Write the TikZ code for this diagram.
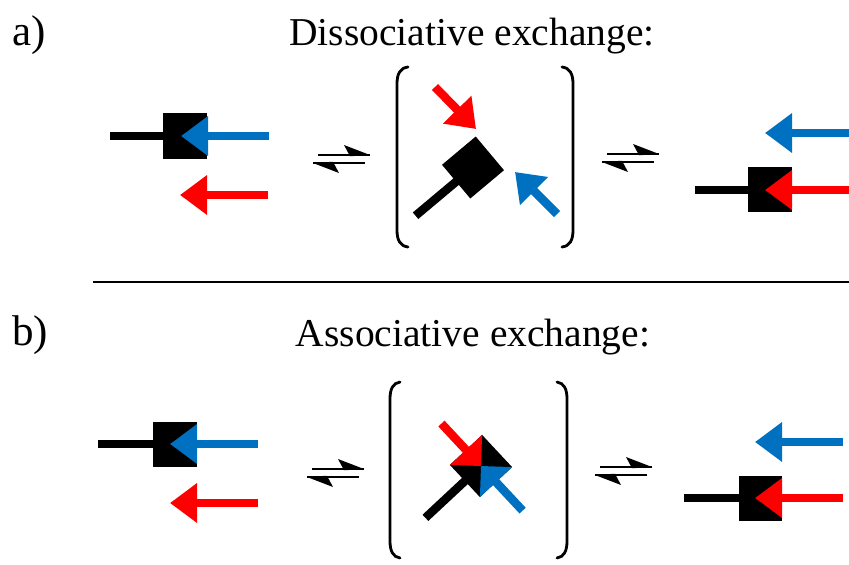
\documentclass[tikz,border=0pt]{standalone}
\usepackage{fontspec}
\setmainfont{Liberation Serif}
\usetikzlibrary{arrows.meta}
\definecolor{ligblue}{RGB}{0,112,192}
\definecolor{ligred}{RGB}{255,0,0}

\begin{document}
\begin{tikzpicture}[x={(1pt,0)}, y={(0,-1pt)},
  bar/.style={line width=8.5pt},
  bigarrow/.style={line width=8.5pt, -{Triangle[length=27pt,width=38pt]}},
  bracketline/.style={line width=2.8pt, line cap=round},
  eqline/.style={line width=2.5pt},
  headline/.style={font=\fontsize{39.5}{44}\selectfont, inner sep=0pt, anchor=base},
  partlabel/.style={font=\fontsize{43}{48}\selectfont, inner sep=0pt, anchor=base west},
  equil/.pic={
    \draw[eqline] (5,0) -- (57,0);
    \fill (57,0) -- (31,-10) -- (37,1.25) -- cycle;
    \draw[eqline] (0,8) -- (52,8);
    \fill (0,8) -- (26,18) -- (20,6.75) -- cycle;
  }]
\useasboundingbox (0,0) rectangle (849,565);

% ---------- headings ----------
\node[partlabel] (la) at (12,45) {a)};
\node[headline] (ta) at (472,45) {Dissociative exchange:};
\node[partlabel] (lb) at (12,345) {b)};
\node[headline] (tb) at (473,346) {Associative exchange:};

% separator
\draw[line width=2.2pt] (93,282) -- (849,282);

% ================= a) dissociative =================
% reactants
\draw[bar] (110,136) -- (165,136);
\fill (163,113) rectangle (207,159);
\draw[bigarrow, ligblue] (269,136) -- (181,136);
\draw[bigarrow, ligred] (268,195) -- (180,195);

\pic at (313,155) {equil};

% transition state
\draw[bracketline] (408,67) .. controls (400,68) and (397,74) .. (397,84) -- (397,230) .. controls (397,240) and (400,246) .. (408,247);
\draw[bracketline] (562,67) .. controls (570,68) and (573,74) .. (573,84) -- (573,230) .. controls (573,240) and (570,246) .. (562,247);
\begin{scope}[shift={(473,167.5)}, rotate=40]
  \draw[bar] (-20,0) -- (-75,0);
  \fill (-22,-22) rectangle (22,22);
\end{scope}
\draw[bigarrow, ligred] (435,87) -- (476,129);
\draw[bigarrow, ligblue] (557,214) -- (515,172);

\pic at (602,154) {equil};

% products
\draw[bigarrow, ligblue] (849,133) -- (765,133);
\draw[bar] (695,190) -- (750,190);
\fill (748,167) rectangle (792,212);
\draw[bigarrow, ligred] (849,190) -- (765,190);

% ================= b) associative =================
% reactants
\draw[bar] (98,444) -- (155,444);
\fill (153,422) rectangle (197,467);
\draw[bigarrow, ligblue] (258,444) -- (170,444);
\draw[bigarrow, ligred] (258,503) -- (170,503);

\pic at (307,469) {equil};

% transition state
\draw[bracketline] (400,382) .. controls (393,383) and (390,389) .. (390,399) -- (390,541) .. controls (390,551) and (393,557) .. (400,558);
\draw[bracketline] (557,382) .. controls (564,383) and (567,389) .. (567,399) -- (567,541) .. controls (567,551) and (564,557) .. (557,558);
\begin{scope}[shift={(481,466)}, rotate=43]
  \draw[bar] (-20,0) -- (-76,0);
  \fill (-22,-22) rectangle (22,22);
  \fill[ligred] (-22,-22) -- (22,-22) -- (0,0) -- cycle;
  \fill[ligblue] (22,22) -- (-22,22) -- (0,0) -- cycle;
  \draw[bar, ligred] (0,-21) -- (0,-58);
  \draw[bar, ligblue] (0,21) -- (0,61);
\end{scope}

\pic at (595,467) {equil};

% products
\draw[bigarrow, ligblue] (843,442) -- (755,442);
\draw[bar] (684,498) -- (741,498);
\fill (739,476) rectangle (782,521);
\draw[bigarrow, ligred] (843,498) -- (755,498);
\end{tikzpicture}
\end{document}
